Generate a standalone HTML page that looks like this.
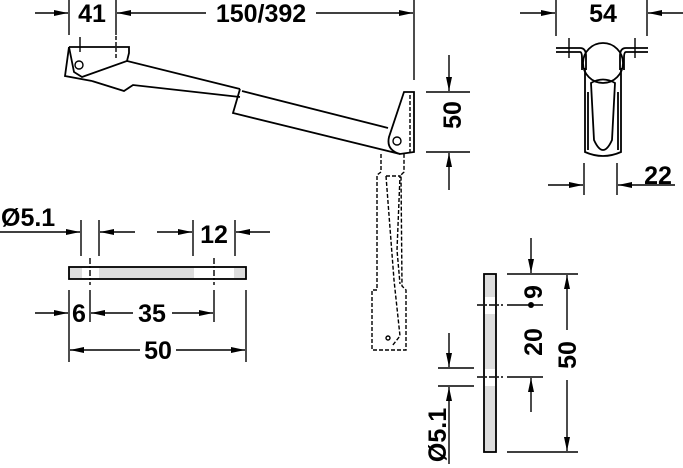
<!DOCTYPE html>
<html><head><style>body{margin:0;background:#fff}svg{display:block}text{font-family:"Liberation Sans",sans-serif;font-weight:bold;font-size:25px;fill:#000}</style></head><body>
<svg width="683" height="468" viewBox="0 0 683 468" xmlns="http://www.w3.org/2000/svg">
<defs><marker id="a" markerWidth="14" markerHeight="8" refX="14" refY="4" orient="auto" markerUnits="userSpaceOnUse"><path d="M0,1 L14,4 L0,7z" fill="#000"/></marker></defs>
<g stroke="#000" stroke-width="1.4" fill="none">
<line x1="69" y1="0" x2="69" y2="35"/><line x1="116" y1="0" x2="116" y2="35"/><line x1="414" y1="0" x2="414" y2="80"/>
<line x1="35" y1="13" x2="68" y2="13" marker-end="url(#a)"/>
<line x1="210" y1="13" x2="117" y2="13" marker-end="url(#a)"/>
<line x1="310" y1="13" x2="413" y2="13" marker-end="url(#a)"/>
<g stroke-width="1.8">
<path d="M69,47 L129,47 L129,53 L127,61 L82,77 L74,72 L69,47"/>
<path d="M69,47 L65,76 L92,81"/>
<path d="M92,81 L124,91 L133,85 L240,97"/>
<path d="M127,61 L240,89"/>
<path d="M240,89 L233,113 L400,154"/>
<path d="M242,91 L388,128"/>
<path d="M404,92 L414,92 L414,152 L400,154 Q386,150 389,137 Z"/>
</g>
<circle cx="79" cy="65" r="4"/><circle cx="397" cy="141" r="4"/>
<line x1="80" y1="37" x2="80" y2="52"/><line x1="116" y1="36" x2="116" y2="60" stroke-dasharray="4,2"/>
<line x1="410" y1="95" x2="410" y2="152" stroke-dasharray="4,2"/>
<g stroke-dasharray="4,2">
<path d="M381,154 L381,172 L377,175 L377,290 L372,290 L372,350 L406,350 L406,290 L402,286 L401,175 L404,172 L404,154"/>
<path d="M386,176 L400,176 L397,250 L400,284"/>
<path d="M386,176 L394,280 L400,336 L392,346"/>
</g>
<circle cx="388" cy="338" r="2"/>
<line x1="426" y1="92" x2="470" y2="92"/><line x1="426" y1="152" x2="470" y2="152"/>
<line x1="449" y1="55" x2="449" y2="91" marker-end="url(#a)"/>
<line x1="449" y1="190" x2="449" y2="153" marker-end="url(#a)"/>
<line x1="556" y1="0" x2="556" y2="36"/><line x1="647" y1="0" x2="647" y2="36"/>
<line x1="520" y1="13" x2="555" y2="13" marker-end="url(#a)"/>
<line x1="683" y1="13" x2="648" y2="13" marker-end="url(#a)"/>
<g stroke-width="1.8">
<path d="M556,48 L580,48 Q586,48 586,56 L586,70 M556,52 L580,52 Q582,52 582,58 L582,70"/>
<path d="M648,48 L626,48 Q620,48 620,56 L620,70 M648,52 L626,52 Q624,52 624,58 L624,70"/>
<circle cx="603" cy="63" r="20"/>
<path d="M585,68 L585,152 Q603,160 621,152 L621,68"/>
<path d="M588,92 L588,150 M618,92 L618,150"/>
<path d="M591,83 Q603,76 615,83 L612,140 Q603,160 594,140 Z"/>
</g>
<line x1="569" y1="38" x2="569" y2="58"/><line x1="635" y1="38" x2="635" y2="58"/>
<line x1="584" y1="163" x2="584" y2="195"/><line x1="617" y1="163" x2="617" y2="195"/>
<line x1="548" y1="185" x2="583" y2="185" marker-end="url(#a)"/>
<line x1="675" y1="185" x2="618" y2="185" marker-end="url(#a)"/>
<rect x="69" y="267" width="177" height="12" fill="#ddd" stroke-width="1.8"/>
<rect x="82" y="268" width="17" height="10" fill="#fff" stroke="none"/>
<rect x="194" y="268" width="40" height="10" fill="#fff" stroke="none"/>
<line x1="90" y1="258" x2="90" y2="285" stroke-dasharray="6,2,2,2"/>
<line x1="214" y1="258" x2="214" y2="285" stroke-dasharray="6,2,2,2"/>
<line x1="0" y1="232" x2="80" y2="232" marker-end="url(#a)"/>
<line x1="81" y1="220" x2="81" y2="256"/><line x1="99" y1="220" x2="99" y2="256"/>
<line x1="135" y1="232" x2="100" y2="232" marker-end="url(#a)"/>
<line x1="157" y1="232" x2="192" y2="232" marker-end="url(#a)"/>
<line x1="193" y1="220" x2="193" y2="256"/><line x1="235" y1="220" x2="235" y2="256"/>
<line x1="270" y1="232" x2="236" y2="232" marker-end="url(#a)"/>
<line x1="69" y1="290" x2="69" y2="362"/><line x1="246" y1="290" x2="246" y2="362"/>
<line x1="90" y1="290" x2="90" y2="322"/><line x1="214" y1="290" x2="214" y2="322"/>
<line x1="35" y1="313" x2="68" y2="313" marker-end="url(#a)"/>
<line x1="133" y1="313" x2="91" y2="313" marker-end="url(#a)"/>
<line x1="172" y1="313" x2="213" y2="313" marker-end="url(#a)"/>
<line x1="140" y1="350" x2="70" y2="350" marker-end="url(#a)"/>
<line x1="176" y1="350" x2="245" y2="350" marker-end="url(#a)"/>
<rect x="484" y="274" width="12" height="178" fill="#ddd" stroke-width="1.8"/>
<rect x="485" y="297" width="10" height="17" fill="#fff" stroke="none"/>
<rect x="485" y="369" width="10" height="17" fill="#fff" stroke="none"/>
<line x1="477" y1="305" x2="503" y2="305" stroke-dasharray="6,2,2,2"/>
<line x1="477" y1="377" x2="503" y2="377" stroke-dasharray="6,2,2,2"/>
<line x1="507" y1="274" x2="578" y2="274"/><line x1="507" y1="452" x2="578" y2="452"/>
<line x1="507" y1="305" x2="543" y2="305"/><line x1="507" y1="377" x2="543" y2="377"/>
<line x1="531" y1="238" x2="531" y2="273" marker-end="url(#a)"/>
<line x1="531" y1="412" x2="531" y2="378" marker-end="url(#a)"/>
<line x1="567" y1="330" x2="567" y2="275" marker-end="url(#a)"/>
<line x1="567" y1="380" x2="567" y2="451" marker-end="url(#a)"/>
<line x1="438" y1="368" x2="474" y2="368"/><line x1="438" y1="386" x2="474" y2="386"/>
<line x1="449" y1="333" x2="449" y2="367" marker-end="url(#a)"/>
<line x1="449" y1="464" x2="449" y2="387" marker-end="url(#a)"/>
</g>
<circle cx="531" cy="305" r="3" fill="#000"/>
<text x="92" y="22" text-anchor="middle">41</text>
<rect x="206" y="1" width="110" height="24" fill="#fff"/>
<text x="261" y="22" text-anchor="middle">150/392</text>
<text x="603" y="22" text-anchor="middle">54</text>
<text x="658" y="184" text-anchor="middle">22</text>
<text x="1" y="226">Ø5.1</text>
<text x="214" y="243" text-anchor="middle">12</text>
<text x="79" y="322" text-anchor="middle">6</text>
<text x="152" y="322" text-anchor="middle">35</text>
<text x="158" y="359" text-anchor="middle">50</text>
<text transform="translate(461,115) rotate(-90)" text-anchor="middle">50</text>
<text transform="translate(542,292) rotate(-90)" text-anchor="middle">9</text>
<text transform="translate(542,342) rotate(-90)" text-anchor="middle">20</text>
<text transform="translate(576,355) rotate(-90)" text-anchor="middle">50</text>
<text transform="translate(446,435) rotate(-90)" text-anchor="middle">Ø5.1</text>
</svg>
</body></html>
